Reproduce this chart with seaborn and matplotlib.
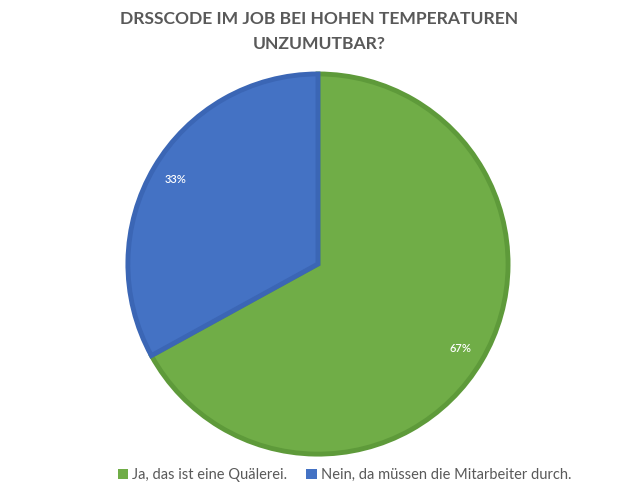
import seaborn as sns
import matplotlib.pyplot as plt
from matplotlib.patches import Patch

# Umfrage-Daten
categories = ["Ja, das ist eine Quälerei.", "Nein, da müssen die Mitarbeiter durch."]
values = [67, 33]
colors = ["#70AD47", "#4472C4"]
edge_colors = ["#5E9A3A", "#3B66B5"]

sns.set_style("white")
plt.rcParams["font.family"] = ["Lato", "DejaVu Sans"]

fig = plt.figure(figsize=(6.38, 4.98), dpi=100)
ax = fig.add_axes([0.1959, 0.0823, 0.605, 0.775])

wedges, texts, autotexts = ax.pie(
    values,
    colors=colors,
    startangle=90,
    counterclock=False,
    autopct="%1.0f%%",
    pctdistance=0.87,
    radius=0.985,
    textprops={"color": "white", "fontsize": 8, "fontweight": "semibold"},
)
for w, ec in zip(wedges, edge_colors):
    w.set_edgecolor(ec)
    w.set_linewidth(3.5)
ax.set_xlim(-1, 1)
ax.set_ylim(-1, 1)
ax.set_aspect("equal")

fig.text(0.5, 0.962, "DRSSCODE IM JOB BEI HOHEN TEMPERATUREN", ha="center", va="center",
         fontsize=12.6, fontweight="bold", color="#595959")
fig.text(0.5, 0.912, "UNZUMUTBAR?", ha="center", va="center",
         fontsize=12.6, fontweight="bold", color="#595959")

handles = [Patch(facecolor=c, edgecolor="none") for c in colors]
fig.legend(handles, categories, loc="center", bbox_to_anchor=(0.54, 0.046), ncol=2,
           frameon=False, fontsize=10.5, labelcolor="#595959", handlelength=0.7,
           handleheight=0.7, handletextpad=0.3, columnspacing=1.3)

fig.savefig("out.png", dpi=100)
